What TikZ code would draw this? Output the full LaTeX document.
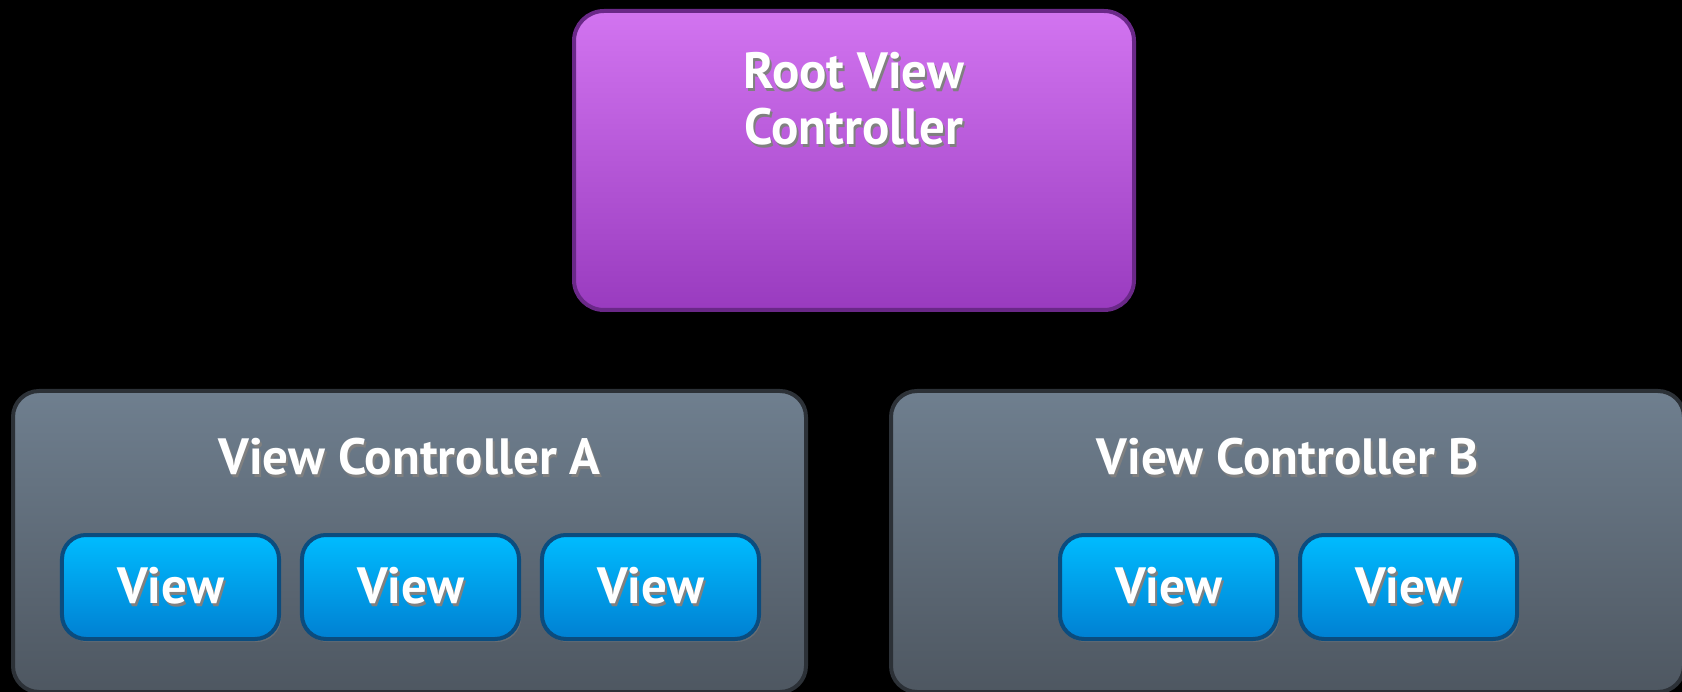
\documentclass[tikz,border=0pt]{standalone}
\usepackage{fontspec}
\setmainfont{PT Sans}
\usepackage{tikz}
\usetikzlibrary{matrix,shadows}

\definecolor{rootTop}{HTML}{D274F0}
\definecolor{rootBot}{HTML}{993BBF}
\definecolor{rootLine}{HTML}{6A2888}
\definecolor{vcTop}{HTML}{6F7F8F}
\definecolor{vcBot}{HTML}{4E5761}
\definecolor{vcLine}{HTML}{2C3137}
\definecolor{viewTop}{HTML}{00BCFF}
\definecolor{viewBot}{HTML}{0080D2}
\definecolor{viewLine}{HTML}{0B4C7E}

\newcommand{\shtext}[1]{\makebox[0pt][l]{\kern2pt\raisebox{-2.5pt}{\textcolor{black!50}{#1}}}#1}

\tikzset{
  rootbox/.style={draw=rootLine, line width=4pt, rounded corners=30pt,
    top color=rootTop, bottom color=rootBot,
    minimum width=560pt, minimum height=299pt, inner sep=0pt},
  vcbox/.style={draw=vcLine, line width=4pt, rounded corners=26pt,
    top color=vcTop, bottom color=vcBot,
    minimum width=793pt, minimum height=301pt, inner sep=0pt},
  viewbox/.style={draw=viewLine, line width=4pt, rounded corners=24pt,
    top color=viewTop, bottom color=viewBot,
    minimum width=217pt, minimum height=104pt, inner sep=0pt,
    text=white, font=\bfseries\fontsize{51}{56}\selectfont,
    drop shadow={opacity=0.45, shadow xshift=2pt, shadow yshift=-3pt}},
  title/.style={text=white, font=\bfseries\fontsize{51}{56}\selectfont,
    inner sep=0pt, align=center}
}

\begin{document}
\begin{tikzpicture}[x=1pt, y=-1pt]
  \fill[black] (0,0) rectangle (1682,692);
  \useasboundingbox (0,0) rectangle (1682,692);

  % root
  \node[rootbox] (root) at (854,160.5) {};
  \node[title, anchor=base] (roottxt) at (854,145) {\shtext{Root View}\\\shtext{Controller}};

  % view controllers
  \node[vcbox] (vca) at (409.5,541.5) {};
  \node[vcbox] (vcb) at (1287.5,541.5) {};
  \node[title, anchor=base] (vcatxt) at (409.5,475) {\shtext{View Controller A}};
  \node[title, anchor=base] (vcbtxt) at (1287.5,475) {\shtext{View Controller B}};

  % views
  \matrix (va) [matrix of nodes, column sep=19pt, inner sep=0pt, nodes={viewbox}] at (410.5,587)
  {
    \shtext{View} & \shtext{View} & \shtext{View} \\
  };
  \matrix (vb) [matrix of nodes, column sep=19pt, inner sep=0pt, nodes={viewbox}] at (1288.5,587)
  {
    \shtext{View} & \shtext{View} \\
  };
\end{tikzpicture}
\end{document}
